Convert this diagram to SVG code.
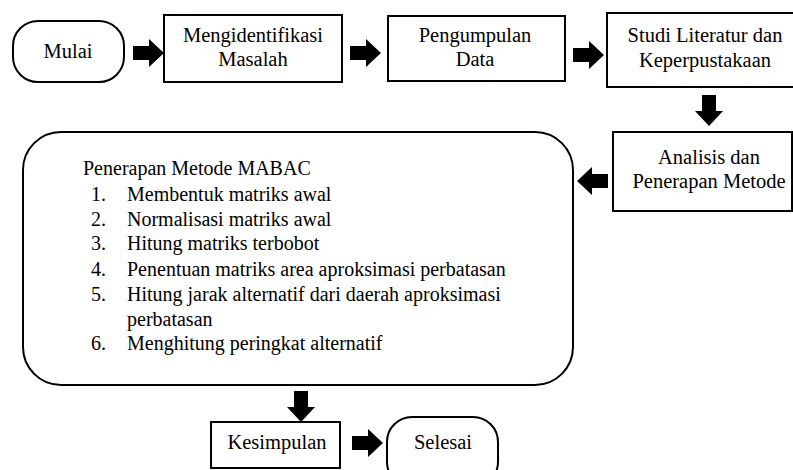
<svg xmlns="http://www.w3.org/2000/svg" width="793" height="470" viewBox="0 0 793 470">
<style>
.b{fill:#fff;stroke:#000;stroke-width:2}
.t{font-family:'Liberation Serif','Times New Roman',serif;font-size:20.5px;fill:#000}
.l{font-family:'Liberation Serif','Times New Roman',serif;font-size:20px;fill:#000}
.c{text-anchor:middle}
</style>
<defs>
<path id="ar" d="M0,-7 H16 V-14 L31,0 L16,14 V7 H0 Z" fill="#000"/>
</defs>
<rect width="793" height="470" fill="#fff"/>
<g id="mulai"><rect class="b" x="13" y="21" width="111" height="61" rx="25" ry="25"/><text class="t c" x="68" y="58">Mulai</text></g>
<g id="identifikasi"><rect class="b" x="164" y="15" width="178" height="67"/><text class="t c" x="253" y="42">Mengidentifikasi</text><text class="t c" x="253" y="66">Masalah</text></g>
<g id="pengumpulan"><rect class="b" x="388" y="16" width="177" height="65"/><text class="t c" x="475" y="42">Pengumpulan</text><text class="t c" x="475" y="66">Data</text></g>
<g id="studi"><rect class="b" x="607" y="13" width="190" height="74"/><text class="t c" x="705" y="42">Studi Literatur dan</text><text class="t c" x="705" y="67">Keperpustakaan</text></g>
<g id="analisis"><rect class="b" x="613" y="132" width="179" height="79"/><text class="t c" x="709" y="164">Analisis dan</text><text class="t c" x="709" y="188">Penerapan Metode</text></g>
<g id="mabac"><rect class="b" x="23" y="132" width="550" height="253" rx="38" ry="38"/>
<text class="l" x="83" y="175">Penerapan Metode MABAC</text>
<text class="l" x="91" y="201">1.</text><text class="l" x="127" y="201">Membentuk matriks awal</text>
<text class="l" x="91" y="226">2.</text><text class="l" x="127" y="226">Normalisasi matriks awal</text>
<text class="l" x="91" y="250">3.</text><text class="l" x="127" y="250">Hitung matriks terbobot</text>
<text class="l" x="91" y="276">4.</text><text class="l" x="127" y="276">Penentuan matriks area aproksimasi perbatasan</text>
<text class="l" x="91" y="301">5.</text><text class="l" x="127" y="301">Hitung jarak alternatif dari daerah aproksimasi</text>
<text class="l" x="127" y="326">perbatasan</text>
<text class="l" x="91" y="350">6.</text><text class="l" x="127" y="350">Menghitung peringkat alternatif</text>
</g>
<g id="kesimpulan"><rect class="b" x="211" y="422" width="129" height="46"/><text class="t c" x="277" y="449">Kesimpulan</text></g>
<g id="selesai"><rect class="b" x="387" y="417" width="111" height="70" rx="25" ry="25"/><text class="t c" x="443" y="449">Selesai</text></g>
<g id="connectors">
<use href="#ar" transform="translate(133,53)"/>
<use href="#ar" transform="translate(350,53)"/>
<use href="#ar" transform="translate(573,55)"/>
<use href="#ar" transform="translate(709,95) rotate(90)"/>
<use href="#ar" transform="translate(608,181) rotate(180)"/>
<use href="#ar" transform="translate(301,391) rotate(90)"/>
<use href="#ar" transform="translate(352,443)"/>
</g>
</svg>
